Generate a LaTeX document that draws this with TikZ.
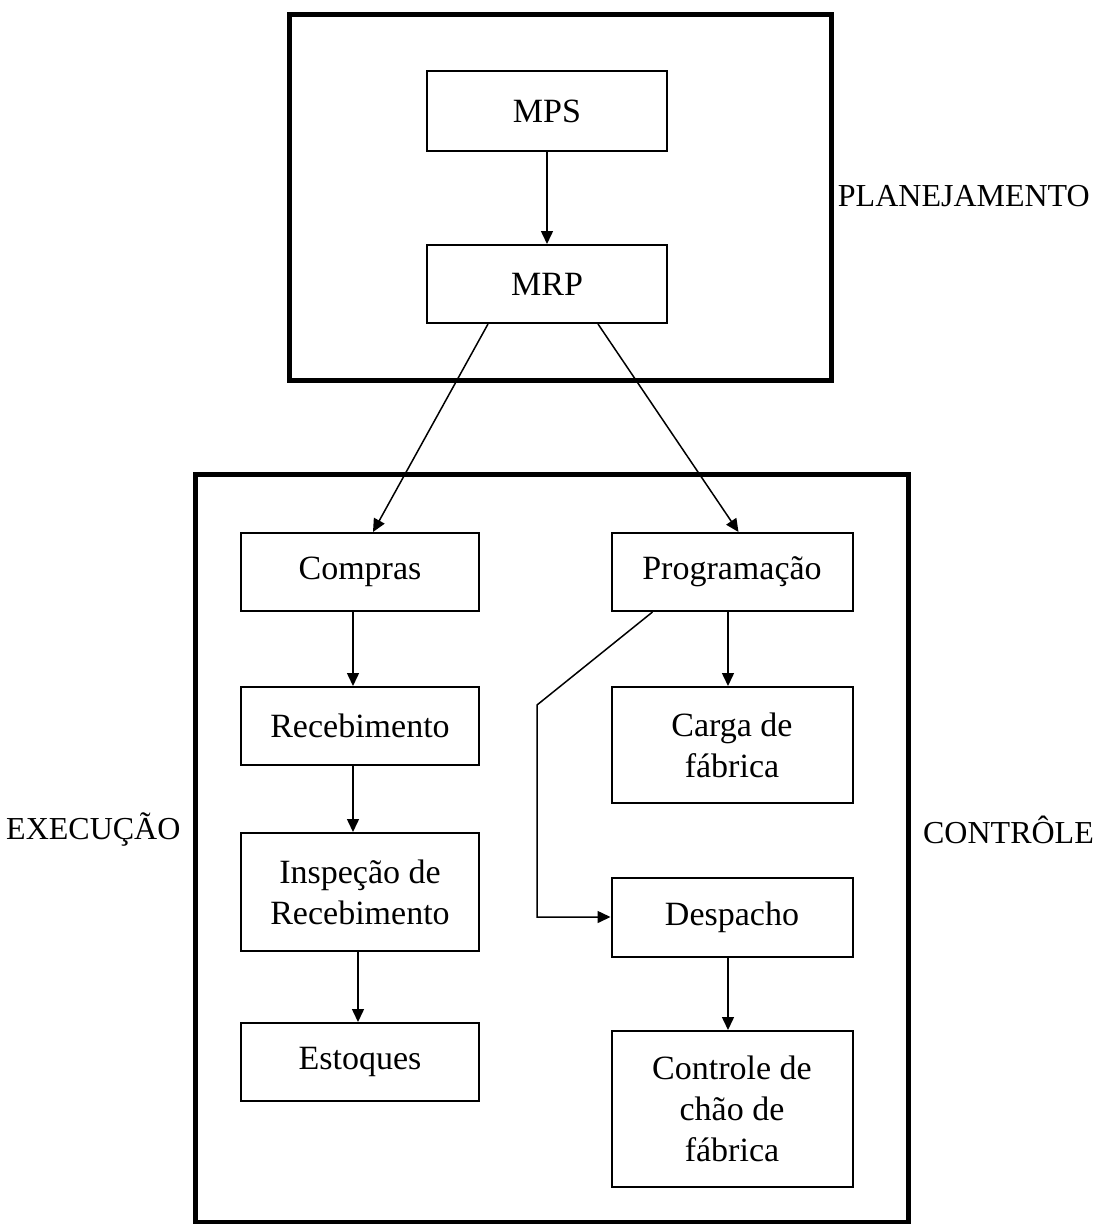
\documentclass[tikz,border=0pt]{standalone}
\usepackage{fontspec}
\setmainfont{Liberation Serif}
\usetikzlibrary{arrows.meta}
\begin{document}
\begin{tikzpicture}[x=1pt,y=-1pt,
  frame/.style={draw,line width=5pt,line join=miter},
  stepbox/.style={draw,line width=2pt,inner sep=0pt,align=center,
    font=\fontsize{34}{41}\selectfont},
  sidelabel/.style={inner sep=0pt,font=\fontsize{32}{38}\selectfont},
  flow/.style={line width=1.5pt,-{Triangle[length=13pt,width=12pt]}}]
\useasboundingbox (0,0) rectangle (1098,1224);
\clip (0,0) rectangle (1098,1224);

% outer frames
\draw[frame] (289,14) rectangle (831,380);
\draw[frame] (195,474) rectangle (908,1222);

% planning level
\node[stepbox,minimum width=240pt,minimum height=80pt] (mps) at (547,111) {MPS};
\node[stepbox,minimum width=240pt,minimum height=78pt] (mrp) at (547,284) {MRP};

% purchasing column
\node[stepbox,minimum width=238pt,minimum height=78pt] (compras) at (360,572) {Compras};
\node[stepbox,minimum width=238pt,minimum height=78pt] (receb) at (360,726) {Recebimento};
\node[stepbox,minimum width=238pt,minimum height=118pt] (insp) at (360,892) {Inspeção de\\Recebimento};
\node[stepbox,minimum width=238pt,minimum height=78pt] (estoq) at (360,1062) {Estoques};

% production column
\node[stepbox,minimum width=241pt,minimum height=78pt] (prog) at (732,572) {Programação};
\node[stepbox,minimum width=241pt,minimum height=116pt] (carga) at (732,745) {Carga de\\fábrica};
\node[stepbox,minimum width=241pt,minimum height=79pt] (desp) at (732,917) {Despacho};
\node[stepbox,minimum width=241pt,minimum height=156pt] (ctrl) at (732,1109) {Controle de\\chão de\\fábrica};

% side labels
\node[sidelabel,anchor=east] (plan) at (1090,196) {PLANEJAMENTO};
\node[sidelabel,anchor=west] (exec) at (6,830) {EXECUÇÃO};
\node[sidelabel,anchor=east] (contr) at (1094,830) {CONTRÔLE};

% connectors
\draw[flow] (mps.south) -- (mrp.north);
\draw[flow] ([xshift=62pt]mrp.south west) -- ([xshift=133pt]compras.north west);
\draw[flow] ([xshift=172pt]mrp.south west) -- ([xshift=128pt]prog.north west);
\draw[flow] (compras.south -| 353,0) -- (receb.north -| 353,0);
\draw[flow] (receb.south -| 353,0) -- (insp.north -| 353,0);
\draw[flow] (insp.south -| 358,0) -- (estoq.north -| 358,0);
\draw[flow] (prog.south -| 728,0) -- (carga.north -| 728,0);
\draw[flow] (desp.south -| 728,0) -- (ctrl.north -| 728,0);
\coordinate (bend) at (537,705);
\draw[flow] ([xshift=42pt]prog.south west) -- (bend) -- (bend |- desp.west) -- (desp.west);
\end{tikzpicture}
\end{document}
